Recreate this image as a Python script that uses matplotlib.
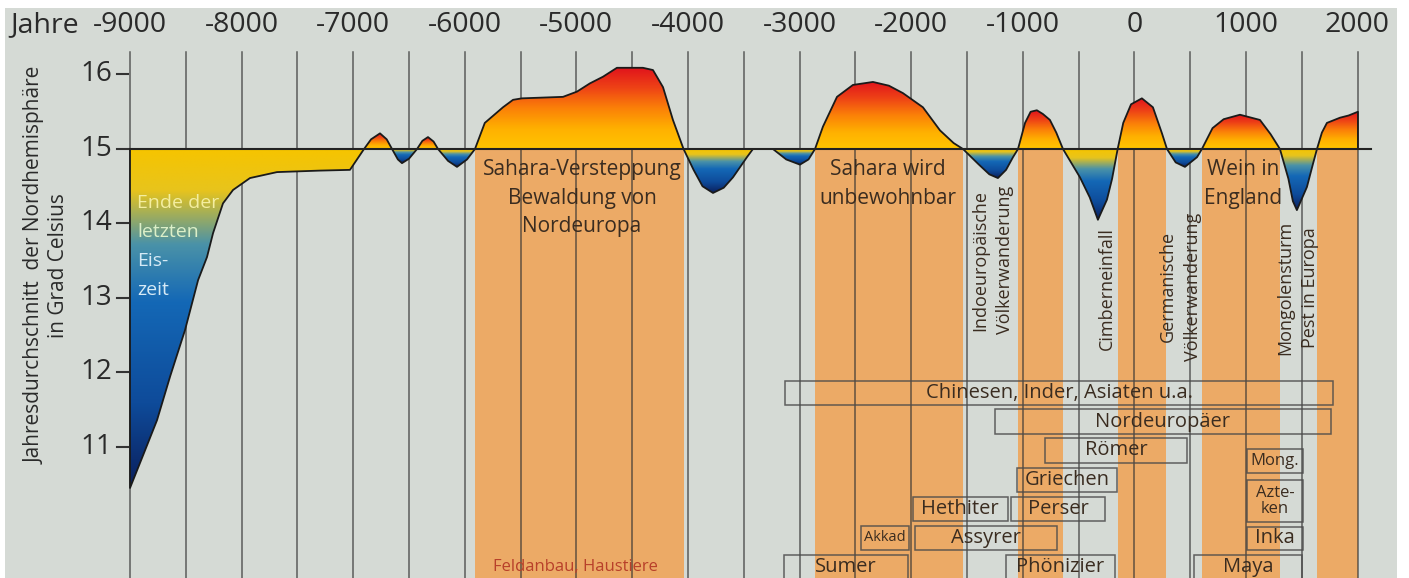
import numpy as np
import matplotlib
matplotlib.use('Agg')
import matplotlib.pyplot as plt
from matplotlib.patches import Polygon, Rectangle
from matplotlib.colors import LinearSegmentedColormap

plt.rcParams['font.family'] = ['Open Sans', 'DejaVu Sans']

#### Daten

# Temperaturkurve Nordhemisphaere (Jahr, Grad Celsius)
jahre = [-9000, -9000, -8880, -8758, -8640, -8507, -8390, -8310, -8256, -8167,
         -8077, -7925, -7683, -7300, -7029, -6903, -6840, -6760, -6700, -6652,
         -6600, -6563, -6500, -6428, -6380, -6330, -6280, -6240, -6150, -6070,
         -5980, -5909, -5821, -5658, -5568, -5488, -5120, -4995, -4880, -4762,
         -4637, -4404, -4314, -4224, -4135, -4040, -3950, -3870, -3776, -3680,
         -3597, -3472, -3418, -3239, -3120, -2997, -2920, -2862, -2791, -2665,
         -2522, -2343, -2200, -2074, -1895, -1742, -1620, -1536, -1400, -1300,
         -1223, -1150, -1088, -1043, -980, -930, -874, -820, -757, -700,
         -640, -488, -400, -327, -246, -200, -150, -100, -30, 67,
         166, 247, 292, 370, 453, 561, 605, 700, 800, 946,
         1125, 1220, 1304, 1380, 1420, 1456, 1546, 1600, 1636, 1680,
         1725, 1842, 1920, 2003, 2003]
temperatur = [15.0, 10.45, 10.90, 11.36, 11.95, 12.57, 13.24, 13.55, 13.87, 14.27,
              14.45, 14.61, 14.69, 14.71, 14.72, 15.0, 15.13, 15.21, 15.13, 15.0,
              14.86, 14.81, 14.87, 15.0, 15.11, 15.16, 15.10, 15.0, 14.84, 14.76,
              14.86, 15.0, 15.35, 15.56, 15.66, 15.68, 15.70, 15.77, 15.88, 15.97,
              16.09, 16.09, 16.06, 15.83, 15.39, 15.0, 14.72, 14.50, 14.41, 14.48,
              14.62, 14.89, 15.0, 15.0, 14.86, 14.79, 14.86, 15.0, 15.30, 15.70,
              15.86, 15.90, 15.85, 15.75, 15.56, 15.25, 15.08, 15.0, 14.80, 14.66,
              14.61, 14.72, 14.89, 15.0, 15.35, 15.50, 15.52, 15.47, 15.39, 15.22,
              15.0, 14.62, 14.35, 14.05, 14.32, 14.60, 15.0, 15.35, 15.60, 15.68,
              15.56, 15.21, 15.0, 14.82, 14.76, 14.89, 15.0, 15.28, 15.40, 15.46,
              15.39, 15.20, 15.0, 14.60, 14.30, 14.18, 14.49, 14.80, 15.0, 15.22,
              15.35, 15.42, 15.45, 15.50, 15.0]

# warme Phasen (orange Streifen)
warm_von = [-5909, -2862, -1043, -150, 605, 1636]
warm_bis = [-4040, -1536, -640, 280, 1304, 2003]

# Voelker / Kulturen
voelker = ['Chinesen, Inder, Asiaten u.a.', 'Nordeuropäer', 'Römer', 'Griechen',
           'Hethiter', 'Perser', 'Akkad', 'Assyrer', 'Sumer', 'Phönizier', 'Maya',
           'Mong.', 'Azte-\nken', 'Inka']
voelker_von = [-3130, -1250, -800, -1050, -1985, -1105, -2450, -1965, -3140, -1150,
               535, 1010, 1010, 1010]
voelker_bis = [1780, 1760, 470, -155, -1135, -265, -2020, -695, -2030, -175,
               1500, 1510, 1510, 1510]
voelker_unten = [11.56, 11.17, 10.79, 10.40, 10.01, 10.01, 9.62, 9.62, 9.10, 9.10,
                 9.10, 10.65, 9.99, 9.62]
voelker_oben = [11.89, 11.51, 11.12, 10.72, 10.33, 10.33, 9.94, 9.94, 9.55, 9.55,
                9.55, 10.97, 10.56, 9.93]

jahr_ticks = list(range(-9000, 2001, 1000))
grad_ticks = [11, 12, 13, 14, 15, 16]

#### Farben
hintergrund = '#d5dad5'
orange = '#ecaa66'
text_braun = '#3a2c20'
warm = LinearSegmentedColormap.from_list('warm', ['#ffc600', '#ffb000', '#fb8008', '#ee4216', '#e0121c'])
kalt = LinearSegmentedColormap.from_list('kalt', [(0, '#f6c400'), (0.12, '#e8c41c'), (0.28, '#4a92a8'),
                                                (0.45, '#1468b6'), (0.75, '#0e4b9a'), (1, '#0b1f5c')])


def verlauf(ax, xs, ys):
    # Flaeche zwischen Kurve und 15 Grad mit Farbverlauf
    xs = np.array(xs)
    ys = np.array(ys)
    poly = Polygon(np.column_stack([xs, ys]), closed=True, fc='none', ec='none')
    ax.add_patch(poly)
    grad = np.linspace(0, 1, 256).reshape(-1, 1)
    if ys.max() > 15:
        im = ax.imshow(grad, extent=[xs.min(), xs.max(), 15, ys.max()], origin='lower',
                       cmap=warm, aspect='auto', zorder=3, interpolation='bilinear')
    else:
        im = ax.imshow(grad, extent=[xs.min(), xs.max(), ys.min(), 15], origin='upper',
                       cmap=kalt, aspect='auto', zorder=3, interpolation='bilinear')
    im.set_clip_path(poly)


fig = plt.figure(figsize=(14.09, 5.78), dpi=100)
fig.patch.set_facecolor('white')
ax = fig.add_axes([0, 0, 1, 1])
ax.axis('off')

ax.add_patch(Rectangle((0.0035, 0), 0.988, 0.986, transform=ax.transAxes,
                       fc=hintergrund, ec='none', zorder=0))

# orange Streifen
for s, e in zip(warm_von, warm_bis):
    ax.add_patch(Rectangle((s, 9.0), e - s, 6.0, fc=orange, ec='none', zorder=1))

# senkrechte Linien alle 500 Jahre
for x in range(-9000, 2001, 500):
    ax.plot([x, x], [9.0, 16.3], color='#333333', lw=1.1, alpha=0.75, zorder=2)

# Flaechen
j = np.array(jahre)
t = np.array(temperatur)
idx = np.where(t == 15.0)[0]
for a, b in zip(idx[:-1], idx[1:]):
    if np.all(t[a:b + 1] == 15.0):
        continue
    verlauf(ax, j[a:b + 1], t[a:b + 1])

ax.plot(jahre, temperatur, color='#1a1a1a', lw=1.3, zorder=4)
ax.plot([-9000, 2120], [15, 15], color='#222222', lw=1.5, zorder=5)

# Achsenbeschriftung
ax.text(-10075, 16.66, 'Jahre', fontsize=20.5, color='#2a2a2a', ha='left', va='center')
for x in jahr_ticks:
    ax.text(x, 16.66, str(x), fontsize=20.5, color='#2a2a2a', ha='center', va='center')
for y in grad_ticks:
    ax.text(-9160, y, str(y), fontsize=20, color='#2a2a2a', ha='right', va='center')
    ax.plot([-9116, -9015], [y, y], color='#333333', lw=1.5, zorder=5)
ax.text(-9851, 13.44, 'Jahresdurchschnitt  der Nordhemisphäre', fontsize=15, color='#2a2a2a',
        rotation=90, ha='center', va='center')
ax.text(-9645, 13.44, 'in Grad Celsius', fontsize=15, color='#2a2a2a',
        rotation=90, ha='center', va='center')

# Texte im Diagramm
eiszeit = ['Ende der', 'letzten', 'Eis-', 'zeit']
eis_farben = ['#f4eea0', '#dcefc8', '#d6eaf6', '#d6eaf6']
for i, (txt, c) in enumerate(zip(eiszeit, eis_farben)):
    ax.text(-8937, 14.275 - i * 0.39, txt, fontsize=14, color=c, ha='left', va='center', zorder=6)

for i, txt in enumerate(['Sahara-Versteppung', 'Bewaldung von', 'Nordeuropa']):
    ax.text(-4950, 14.72 - i * 0.38, txt, fontsize=15, color=text_braun, ha='center', va='center', zorder=6)
for i, txt in enumerate(['Sahara wird', 'unbewohnbar']):
    ax.text(-2208, 14.72 - i * 0.38, txt, fontsize=15, color=text_braun, ha='center', va='center', zorder=6)
for i, txt in enumerate(['Wein in', 'England']):
    ax.text(972, 14.72 - i * 0.38, txt, fontsize=15, color=text_braun, ha='center', va='center', zorder=6)

senkrecht = [(-1384, 13.51, 'Indoeuropäische'), (-1160, 13.51, 'Völkerwanderung'),
             (-246, 13.13, 'Cimberneinfall'), (300, 13.15, 'Germanische'),
             (524, 13.15, 'Völkerwanderung'), (1349, 13.14, 'Mongolensturm'),
             (1573, 13.14, 'Pest in Europa')]
for x, y, txt in senkrecht:
    ax.text(x, y, txt, fontsize=13, color=text_braun, rotation=90, ha='center', va='center', zorder=6)

ax.text(-5013, 9.39, 'Feldanbau, Haustiere', fontsize=12, color='#b8402a', ha='center', va='center', zorder=6)

# Kaesten der Voelker
for name, x0, x1, y0, y1 in zip(voelker, voelker_von, voelker_bis, voelker_unten, voelker_oben):
    ax.add_patch(Rectangle((x0, y0), x1 - x0, y1 - y0, fc='none', ec='#4a4a4a', lw=1.1, alpha=0.85, zorder=6))
    fs = 14.5
    if name == 'Akkad':
        fs = 10.5
    elif name in ('Mong.', 'Azte-\nken'):
        fs = 12
    ym = (y1 + max(y0, 9.24)) / 2
    ax.text((x0 + x1) / 2, ym, name, fontsize=fs, color=text_braun, ha='center', va='center',
            linespacing=1.0, zorder=7)

ax.set_xlim(-10165, 2460.6)
ax.set_ylim(9.2416, 17.0)

plt.savefig('out.png', dpi=100, facecolor='white')
